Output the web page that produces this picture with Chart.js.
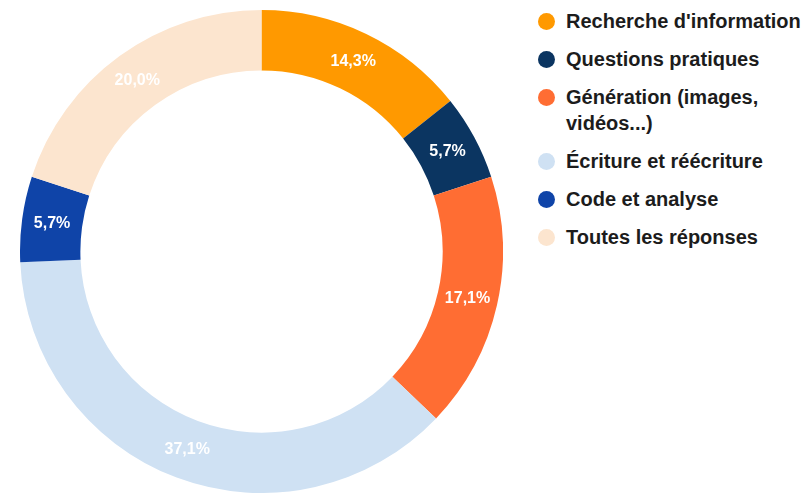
<!DOCTYPE html>
<html>
<head>
<meta charset="utf-8">
<script src="https://cdn.jsdelivr.net/npm/chart.js@4/dist/chart.umd.min.js"></script>
<style>
  html, body { margin: 0; padding: 0; background: #fff; overflow: hidden; }
  body { width: 810px; height: 493px; position: relative; font-family: 'Liberation Sans', Arial, sans-serif; }
  #wrap { position: absolute; left: 20px; top: 10px; width: 483px; height: 483px; }
  #legend { position: absolute; left: 538px; top: 8px; margin: 0; padding: 0; list-style: none; }
  #legend li { display: flex; align-items: flex-start; margin-bottom: 12px; }
  #legend .dot { width: 17px; height: 17px; border-radius: 50%; margin-top: 4.5px; margin-right: 11px; flex: none; }
  #legend .txt { font-weight: bold; font-size: 20px; line-height: 26px; color: #1c1c1c; width: 255px; }
</style>
</head>
<body>
<div id="wrap"><canvas id="chart"></canvas></div>
<ul id="legend"></ul>
<script>
const categories = [
  "Recherche d'information",
  'Questions pratiques',
  'Génération (images, vidéos...)',
  'Écriture et réécriture',
  'Code et analyse',
  'Toutes les réponses',
];
const counts = [5, 2, 6, 13, 2, 7];
const percentLabels = ['14,3%', '5,7%', '17,1%', '37,1%', '5,7%', '20,0%'];
const colors = ['#FF9900', '#0B3561', '#FF6D33', '#CFE1F3', '#0F44A8', '#FCE5CF'];

const sliceLabels = {
  id: 'sliceLabels',
  afterDatasetsDraw(chart) {
    const { ctx } = chart;
    const meta = chart.getDatasetMeta(0);
    ctx.save();
    ctx.fillStyle = '#fff';
    ctx.font = 'bold 16px "Liberation Sans", Arial, sans-serif';
    ctx.textAlign = 'center';
    ctx.textBaseline = 'middle';
    meta.data.forEach((arc, i) => {
      const p = arc.tooltipPosition();
      ctx.fillText(percentLabels[i], p.x, p.y);
    });
    ctx.restore();
  },
};

new Chart(document.getElementById('chart'), {
  type: 'doughnut',
  data: {
    labels: categories,
    datasets: [
      {
        data: counts,
        backgroundColor: colors,
        borderWidth: 0,
      },
    ],
  },
  options: {
    responsive: true,
    maintainAspectRatio: false,
    animation: false,
    cutout: '75%',
    layout: { padding: 0 },
    plugins: {
      legend: { display: false },
      tooltip: { enabled: false },
    },
    events: [],
  },
  plugins: [sliceLabels],
});

const legend = document.getElementById('legend');
categories.forEach((name, i) => {
  const li = document.createElement('li');
  const dot = document.createElement('span');
  dot.className = 'dot';
  dot.style.background = colors[i];
  const txt = document.createElement('span');
  txt.className = 'txt';
  txt.textContent = name;
  li.appendChild(dot);
  li.appendChild(txt);
  legend.appendChild(li);
});
</script>
</body>
</html>
